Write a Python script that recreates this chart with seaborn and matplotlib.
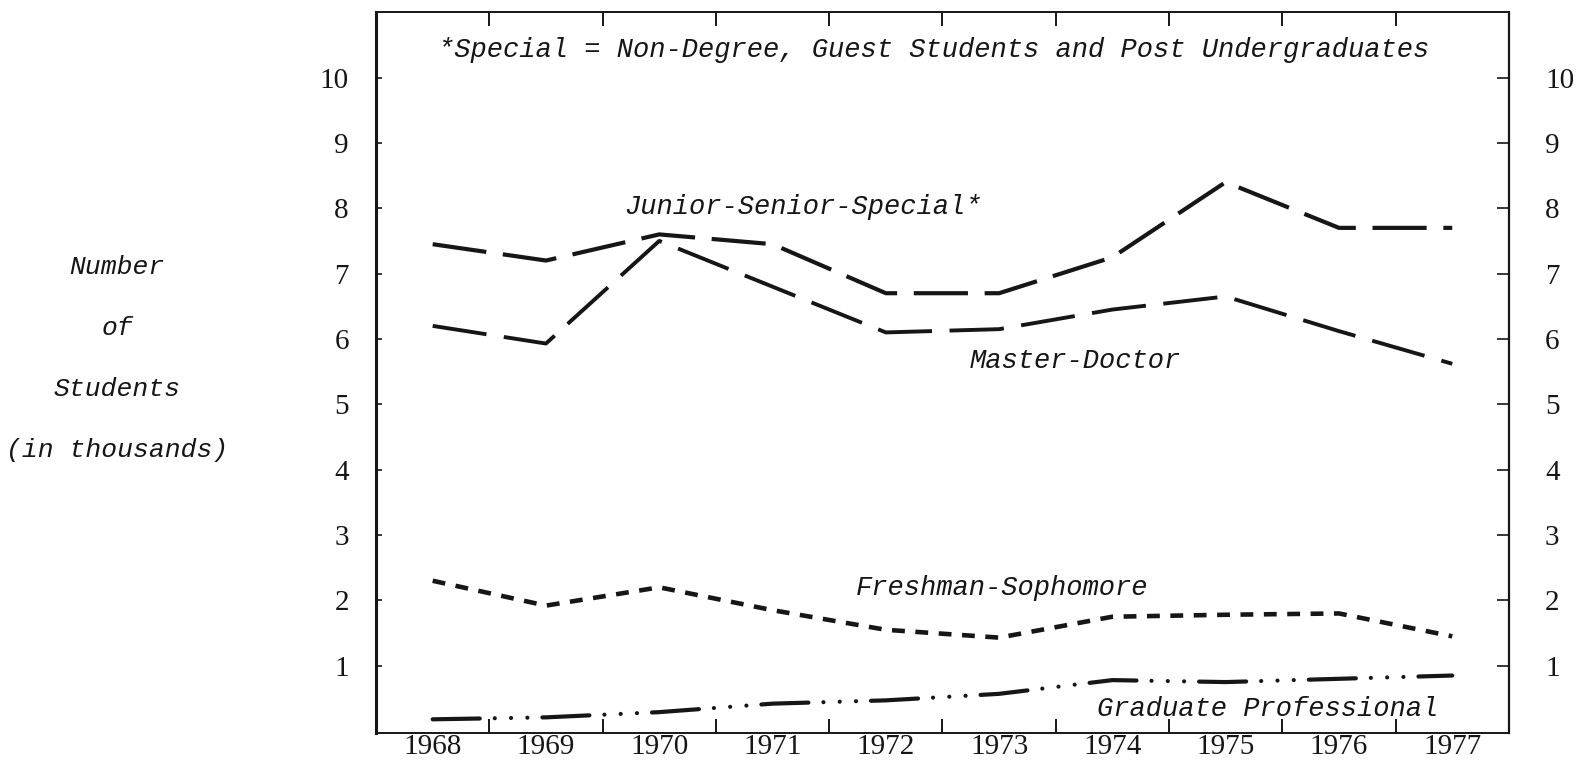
import matplotlib
matplotlib.use("Agg")
import matplotlib.pyplot as plt
import seaborn as sns
import pandas as pd
from matplotlib.ticker import FixedLocator

# --- data (thousands of students) ---
years = [1968, 1969, 1970, 1971, 1972, 1973, 1974, 1975, 1976, 1977]
junior_senior_special = [7.45, 7.2, 7.6, 7.45, 6.7, 6.7, 7.25, 8.4, 7.7, 7.7]
master_doctor = [6.2, 5.93, 7.5, 6.8, 6.1, 6.15, 6.45, 6.65, 6.12, 5.62]
freshman_sophomore = [2.3, 1.92, 2.2, 1.85, 1.55, 1.43, 1.75, 1.78, 1.8, 1.45]
graduate_professional = [0.18, 0.21, 0.29, 0.42, 0.47, 0.57, 0.78, 0.75, 0.8, 0.85]
y_ticks = [1, 2, 3, 4, 5, 6, 7, 8, 9, 10]
half_years = [y + 0.5 for y in years[:-1]]

df = pd.DataFrame({
    "Year": years * 4,
    "Students": junior_senior_special + master_doctor + freshman_sophomore + graduate_professional,
    "Group": (["Junior-Senior-Special"] * 10 + ["Master-Doctor"] * 10
              + ["Freshman-Sophomore"] * 10 + ["Graduate Professional"] * 10),
})

sns.set_style("white")
plt.rcParams['font.family'] = ['Liberation Mono', 'DejaVu Sans']

ink = '#161616'
fig = plt.figure(figsize=(15.8, 7.62), dpi=100, facecolor='white')
ax = fig.add_axes([0.238, 0.038, 0.717, 0.946])

# line styles: (linewidth, dash pattern in linewidth units, cap style)
line_styles = {
    "Junior-Senior-Special": (3.0, (0, (13, 4)), 'butt'),
    "Master-Doctor": (2.8, (0, (14, 4.5)), 'butt'),
    "Freshman-Sophomore": (3.3, (0, (2.8, 2.3)), 'butt'),
    "Graduate Professional": (3.0, (0, (11.3, 3.6, 0.01, 3.9, 0.01, 3.9, 0.01, 3.6)), 'round'),
}
for name, (lw, ls, cap) in line_styles.items():
    sub = df[df["Group"] == name]
    sns.lineplot(data=sub, x="Year", y="Students", ax=ax, color=ink,
                 linewidth=lw, legend=False)
    ax.lines[-1].set_linestyle(ls)
    ax.lines[-1].set_dash_capstyle(cap)

ax.set_xlim(1967.5, 1977.5)
ax.set_ylim(-0.03, 11.0)

# --- axes / ticks ---
ax.xaxis.set_major_locator(FixedLocator(years))
ax.xaxis.set_minor_locator(FixedLocator(half_years))
ax.set_xticklabels([str(y) for y in years])
ax.tick_params(axis='x', which='major', length=0, pad=0.5, labelsize=21,
               labelcolor=ink, labelfontfamily='Liberation Serif')
ax.tick_params(axis='x', which='minor', direction='in', length=10, width=1.4,
               color=ink, top=True, bottom=True)

ax.set_yticks(y_ticks)
ax.tick_params(axis='y', which='major', direction='in', length=4, width=1.2,
               color=ink, pad=19.5, labelsize=21, labelcolor=ink,
               labelfontfamily='Liberation Serif')

ax2 = ax.twinx()
ax2.set_ylim(ax.get_ylim())
ax2.set_yticks(y_ticks)
ax2.tick_params(axis='y', direction='in', length=9, width=1.2, color=ink,
                pad=26, labelsize=21, labelcolor=ink,
                labelfontfamily='Liberation Serif')
for s in ['left', 'top', 'bottom']:
    ax2.spines[s].set_visible(False)
ax2.spines['right'].set_linewidth(1.6)
ax2.spines['right'].set_color(ink)

for s in ['top', 'bottom', 'right']:
    ax.spines[s].set_linewidth(1.4)
    ax.spines[s].set_color(ink)
ax.spines['left'].set_linewidth(2.2)
ax.spines['left'].set_color(ink)

ax.set_xlabel("")
ax.set_ylabel("Number\nof\nStudents\n(in thousands)", rotation=0, fontsize=19,
              style='italic', linespacing=2.95, ha='center', va='center', color=ink)
ax.yaxis.set_label_coords(-0.2286, 0.52)

# --- annotations ---
txt = dict(fontsize=19.5, style='italic', color=ink, ha='center', va='center')
ax.text(1972.42, 10.42, "*Special = Non-Degree, Guest Students and Post Undergraduates", **txt)
ax.text(1971.27, 8.02, "Junior-Senior-Special*", **txt)
ax.text(1973.67, 5.66, "Master-Doctor", **txt)
ax.text(1973.03, 2.19, "Freshman-Sophomore", **txt)
ax.text(1975.37, 0.34, "Graduate Professional", **txt)

plt.savefig("out.png", dpi=100, facecolor='white')
plt.close()
